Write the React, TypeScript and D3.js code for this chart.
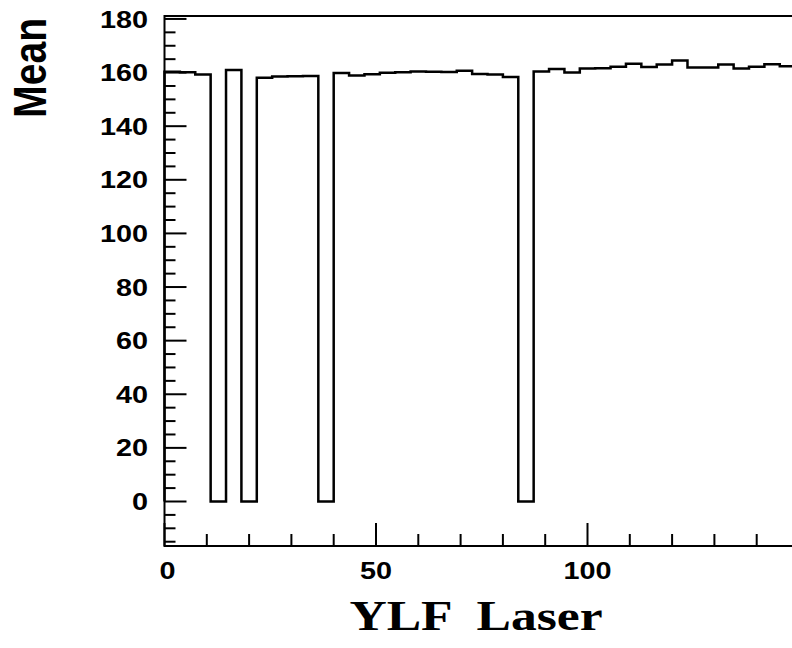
import * as d3 from "d3";

// histogram: 44 bins over [0, 160]
const xMin = 0;
const xMax = 160;
const nBins = 44;
const binValues = [
  160.3, 160.1, 159.3, 0, 161.0, 0, 158.1, 158.5, 158.6, 158.7,
  0, 159.8, 158.9, 159.4, 159.9, 160.1, 160.4, 160.3, 160.2, 160.7,
  159.5, 159.3, 158.3, 0, 160.4, 161.3, 160.0, 161.5, 161.6, 162.2,
  163.3, 162.1, 163.0, 164.5, 161.9, 161.9, 163.0, 161.5, 162.2, 163.1,
  162.4, 162.8, 162.0, 162.5,
];
const yMin = -16.6;
const yMax = 181.1;
const yMajor = [0, 20, 40, 60, 80, 100, 120, 140, 160, 180];
const xMajor = [0, 50, 100, 150];
const xLabels = [0, 50, 100];
const xTitle = "YLF  Laser";
const yTitle = "Mean";

const W = 792;
const H = 648;
const left = 164.5;
const bottom = 546;
const top = 16;
const pxPerX = 4.23;
const sans = "'Liberation Sans', Arial, Helvetica, sans-serif";
const serif = "'Liberation Serif', 'Times New Roman', Times, serif";

export default function App() {
  const x = d3.scaleLinear().domain([xMin, xMax]).range([left, left + (xMax - xMin) * pxPerX]);
  const y = d3.scaleLinear().domain([yMin, yMax]).range([bottom, top]);
  const bw = (xMax - xMin) / nBins;

  const pts: [number, number][] = [[xMin, 0]];
  binValues.forEach((v, i) => {
    pts.push([xMin + i * bw, v]);
    pts.push([xMin + (i + 1) * bw, v]);
  });
  pts.push([xMax, 0]);
  const line = d3
    .line<[number, number]>()
    .x((d) => x(d[0]))
    .y((d) => y(d[1]));

  const yMinor = d3.range(-15, 181, 5).filter((v) => v % 20 !== 0);
  const xMinor = d3.range(10, xMax, 10).filter((v) => v % 50 !== 0);
  const sx = 1.2;

  return (
    <svg
      width={W}
      height={H}
      style={{ position: "absolute", left: 0, top: 0, background: "#fff" }}
    >
      <rect x={0} y={0} width={W} height={H} fill="#fff" />
      {/* frame */}
      <rect
        x={x(xMin)}
        y={y(yMax)}
        width={x(xMax) - x(xMin)}
        height={y(yMin) - y(yMax)}
        fill="none"
        stroke="#000"
        strokeWidth={2}
      />
      {/* histogram */}
      <path d={line(pts) || ""} fill="none" stroke="#000" strokeWidth={2.5} strokeLinejoin="miter" />
      {/* y ticks */}
      {yMajor.map((v) => (
        <line key={"ym" + v} x1={left} x2={left + 22} y1={y(v)} y2={y(v)} stroke="#000" strokeWidth={2} />
      ))}
      {yMinor.map((v) => (
        <line key={"yn" + v} x1={left} x2={left + 11} y1={y(v)} y2={y(v)} stroke="#000" strokeWidth={2} />
      ))}
      {yMajor.map((v) => (
        <text
          key={"yl" + v}
          transform={`translate(148,${y(v) + 8.6}) scale(${sx},1)`}
          textAnchor="end"
          style={{ fontFamily: sans, fontWeight: "bold", fontSize: 24 }}
        >
          {v}
        </text>
      ))}
      {/* x ticks */}
      {xMajor.map((v) => (
        <line key={"xm" + v} x1={x(v)} x2={x(v)} y1={bottom} y2={bottom - 23} stroke="#000" strokeWidth={2} />
      ))}
      {xMinor.map((v) => (
        <line key={"xn" + v} x1={x(v)} x2={x(v)} y1={bottom} y2={bottom - 12} stroke="#000" strokeWidth={2} />
      ))}
      {xLabels.map((v) => (
        <text
          key={"xl" + v}
          transform={`translate(${x(v) + (v === 0 ? 3 : 0)},579) scale(${sx},1)`}
          textAnchor="middle"
          style={{ fontFamily: sans, fontWeight: "bold", fontSize: 24 }}
        >
          {v}
        </text>
      ))}
      {/* titles */}
      <text
        transform={`translate(476,630) scale(${sx},1)`}
        textAnchor="middle"
        style={{ fontFamily: serif, fontWeight: "bold", fontSize: 43, whiteSpace: "pre" }}
      >
        {xTitle}
      </text>
      <text
        transform={`translate(46,18) scale(1.18,1) rotate(-90)`}
        textAnchor="end"
        style={{ fontFamily: sans, fontWeight: "bold", fontSize: 39 }}
      >
        {yTitle}
      </text>
    </svg>
  );
}
